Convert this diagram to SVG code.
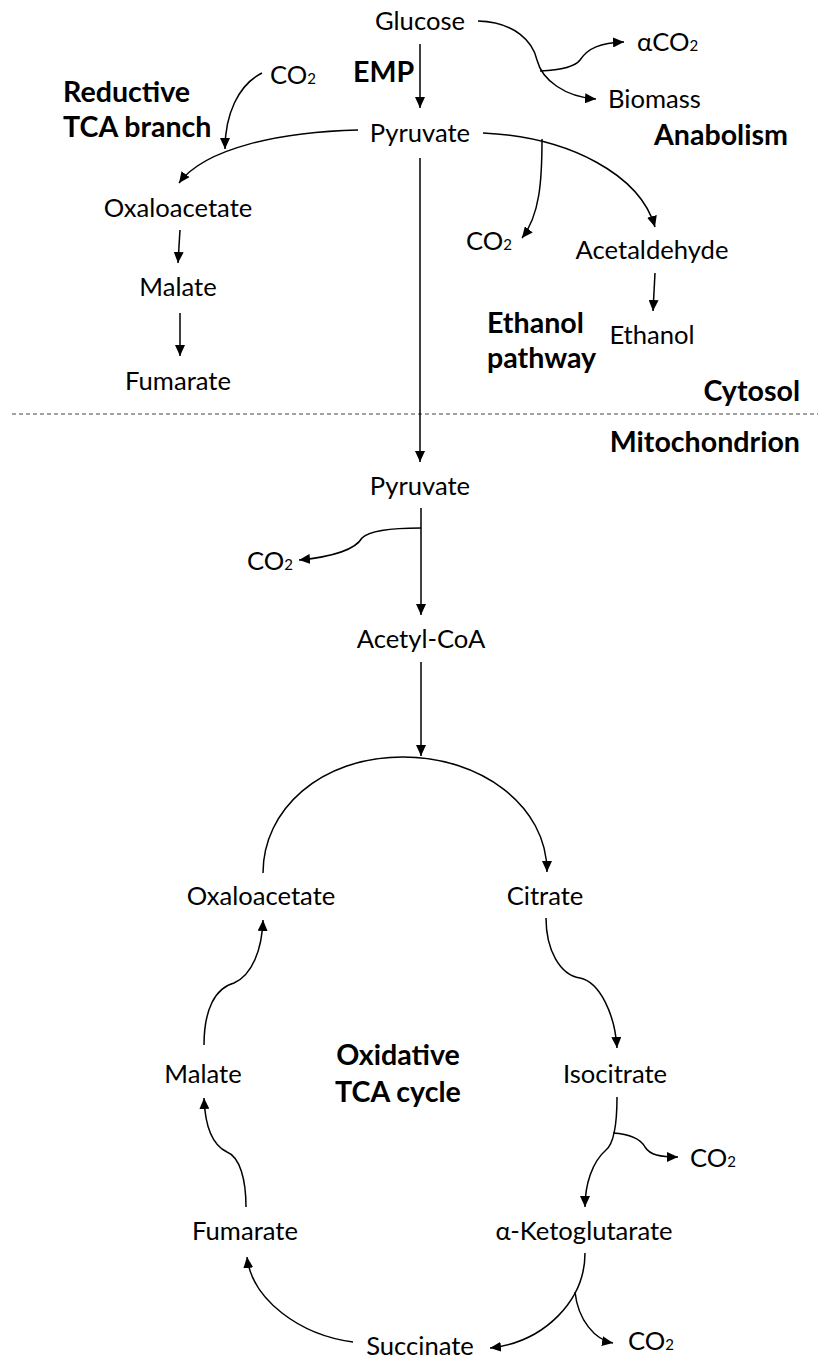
<svg xmlns="http://www.w3.org/2000/svg" width="818" height="1363" viewBox="0 0 818 1363">
<defs>
<marker id="ah" markerUnits="userSpaceOnUse" markerWidth="12" markerHeight="10" refX="11" refY="5" orient="auto">
<path d="M0,0 L11,5 L0,10 Z" fill="#000"/>
</marker>
<style>
.t{font-family:Lato,"Liberation Sans",sans-serif;font-size:25.6px;fill:#000}
.b{font-family:Lato,"Liberation Sans",sans-serif;font-size:28.6px;font-weight:bold;fill:#000}
.m{text-anchor:middle}
.e{text-anchor:end}
.s{font-size:15px}
.c path{fill:none;stroke:#000;stroke-width:1.5;marker-end:url(#ah)}
</style>
</defs>
<rect width="818" height="1363" fill="#fff"/>
<line x1="12" y1="414" x2="818" y2="414" stroke="#444" stroke-width="1" stroke-dasharray="4 3"/>
<g id="labels">
<text class="b" x="353" y="82">EMP</text>
<text class="b" x="63" y="102">Reductive</text>
<text class="b" x="63" y="137">TCA branch</text>
<text class="b e" x="788" y="145">Anabolism</text>
<text class="b" x="487" y="333">Ethanol</text>
<text class="b" x="487" y="368">pathway</text>
<text class="b e" x="800" y="401">Cytosol</text>
<text class="b e" x="800" y="452">Mitochondrion</text>
<text class="b m" x="398" y="1065">Oxidative</text>
<text class="b m" x="398" y="1102">TCA cycle</text>
</g>
<g id="glucose"><text class="t m" x="420" y="30">Glucose</text></g>
<g id="pyruvate-c"><text class="t m" x="420" y="142">Pyruvate</text></g>
<g id="aco2"><text class="t" x="637" y="51">αCO<tspan class="s">2</tspan></text></g>
<g id="biomass"><text class="t" x="608" y="108">Biomass</text></g>
<g id="co2-a"><text class="t" x="270" y="84">CO<tspan class="s">2</tspan></text></g>
<g id="oaa-c"><text class="t m" x="178" y="217">Oxaloacetate</text></g>
<g id="malate-c"><text class="t m" x="178" y="296">Malate</text></g>
<g id="fumarate-c"><text class="t m" x="178" y="390">Fumarate</text></g>
<g id="co2-b"><text class="t" x="466" y="250">CO<tspan class="s">2</tspan></text></g>
<g id="acetaldehyde"><text class="t m" x="652" y="259">Acetaldehyde</text></g>
<g id="ethanol"><text class="t m" x="652" y="344">Ethanol</text></g>
<g id="pyruvate-m"><text class="t m" x="420" y="495">Pyruvate</text></g>
<g id="co2-c"><text class="t" x="247" y="570">CO<tspan class="s">2</tspan></text></g>
<g id="acetylcoa"><text class="t m" x="421" y="648">Acetyl-CoA</text></g>
<g id="oaa-m"><text class="t m" x="261" y="905">Oxaloacetate</text></g>
<g id="citrate"><text class="t m" x="545" y="905">Citrate</text></g>
<g id="malate-m"><text class="t m" x="203" y="1083">Malate</text></g>
<g id="isocitrate"><text class="t m" x="615" y="1083">Isocitrate</text></g>
<g id="co2-d"><text class="t" x="690" y="1167">CO<tspan class="s">2</tspan></text></g>
<g id="fumarate-m"><text class="t m" x="245" y="1240">Fumarate</text></g>
<g id="akg"><text class="t m" x="584" y="1240">α-Ketoglutarate</text></g>
<g id="succinate"><text class="t m" x="420" y="1355">Succinate</text></g>
<g id="co2-e"><text class="t" x="628" y="1350">CO<tspan class="s">2</tspan></text></g>
<g id="connectors" class="c">
<path d="M420,44 L420,108"/>
<path d="M478,21 C515,22 533,42 537,60 C542,80 565,97 596,99"/>
<path d="M540,71 C560,70 575,67 580,60 C588,48 600,43 624,42"/>
<path d="M262,73 C238,85 225,115 225,149"/>
<path d="M358,130 C280,132 205,148 179,183"/>
<path d="M180,230 L178,263"/>
<path d="M180,313 L180,356"/>
<path d="M483,133 C570,137 640,175 655,227"/>
<path d="M542,139 C542,180 540,215 522,238"/>
<path d="M655,273 L653,311"/>
<path d="M420,158 L420,462"/>
<path d="M421,508 L421,615"/>
<path d="M421,528 C395,528 370,530 362,538 C355,550 330,557 299,560"/>
<path d="M421,662 L421,756"/>
<path d="M263,873 C263,810 320,757 403,757 C480,757 547,805 547,872"/>
<path d="M546,918 C546,950 560,975 580,978 C600,982 615,1015 617,1048"/>
<path d="M617,1097 C617,1130 612,1145 606,1150 C592,1162 585,1185 585,1207"/>
<path d="M613,1133 C628,1134 640,1138 645,1147 C650,1155 660,1157 678,1157"/>
<path d="M585,1253 C585,1300 545,1342 490,1348"/>
<path d="M575,1292 C578,1320 595,1340 613,1343"/>
<path d="M353,1342 C300,1335 252,1300 247,1257"/>
<path d="M246,1207 C246,1180 240,1157 227,1152 C212,1145 205,1125 204,1098"/>
<path d="M204,1045 C204,1010 215,988 234,983 C252,975 262,950 263,920"/>
</g>
</svg>
